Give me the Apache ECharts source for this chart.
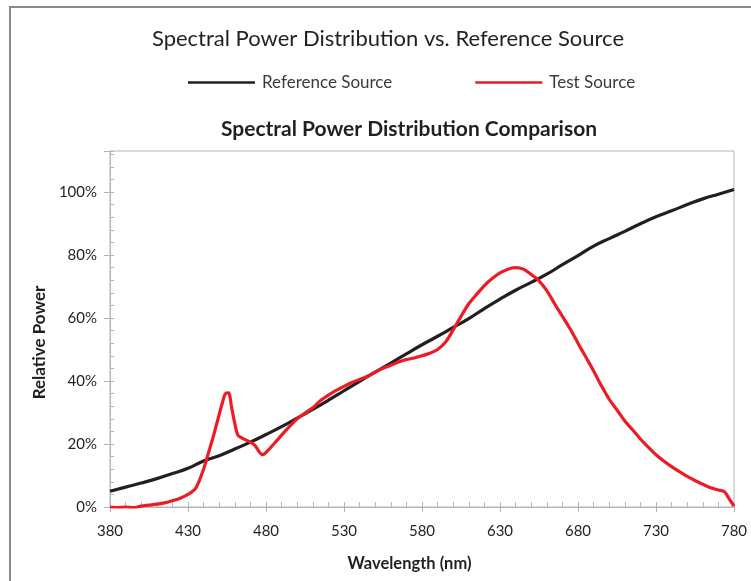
<!DOCTYPE html>
<html>
<head>
<meta charset="utf-8">
<script src="https://cdn.jsdelivr.net/npm/echarts@6/dist/echarts.min.js"></script>
<style>
html,body{margin:0;padding:0;background:#fff;}
#chart{width:751px;height:581px;}
</style>
</head>
<body>
<div id="chart"></div>
<script>
// Wavelengths (nm) and relative power (%)
var refWavelengths = [380,390,400,410,420,430,440,450,460,470,480,490,500,510,520,530,540,550,560,570,580,590,600,610,620,630,640,650,660,670,680,690,700,710,720,730,740,750,760,770,780];
var refValues = [5.0,6.3,7.6,9.0,10.6,12.3,14.6,16.3,18.4,20.6,23.0,25.5,28.2,31.0,33.9,36.9,39.9,42.8,45.7,48.6,51.5,54.2,57.0,59.8,63.0,66.0,68.8,71.3,73.9,76.9,79.8,82.8,85.2,87.5,89.9,92.1,94.0,96.0,97.8,99.3,100.8];

var testWavelengths = [380,385,390,395,400,405,410,415,420,425,430,435,440,443,446,449,452,454,456,458,460,462,465,470,473,476,478,480,485,490,495,500,505,510,515,520,525,530,535,540,545,550,555,560,565,570,575,580,585,590,595,600,605,610,615,620,625,630,635,640,645,650,655,660,665,670,675,680,685,690,695,700,705,710,715,720,725,730,735,740,745,750,755,760,765,770,774,777,780];
var testValues = [0.0,-0.2,0.0,-0.2,0.3,0.6,0.9,1.3,2.0,2.8,4.0,6.0,12.0,17.0,22.0,27.5,33.0,36.0,36.2,31.5,26.5,22.8,21.8,20.6,19.5,17.3,16.6,17.3,20.0,22.8,25.5,28.0,29.8,31.5,33.8,35.5,37.0,38.3,39.5,40.5,41.5,42.8,44.0,45.0,46.0,46.8,47.3,48.0,48.8,50.0,52.3,56.2,60.5,64.5,67.5,70.3,72.5,74.3,75.5,76.0,75.5,73.8,71.8,68.7,64.5,60.5,56.5,52.0,47.6,43.2,38.5,34.2,30.8,27.3,24.5,21.6,19.0,16.6,14.6,12.8,11.2,9.7,8.4,7.2,6.1,5.4,4.8,2.5,0.3];

var xTickLabels = [380,430,480,530,580,630,680,730,780];
var yTickLabels = [0,20,40,60,80,100];

var FONT = 'Lato, "Noto Sans", sans-serif';
var refData = refWavelengths.map(function(w,i){return [w, refValues[i]];});
var testData = testWavelengths.map(function(w,i){return [w, testValues[i]];});

var chart = echarts.init(document.getElementById('chart'), null, {renderer:'canvas'});
chart.setOption({
  animation:false,
  backgroundColor:'#fff',
  textStyle:{fontFamily:FONT},
  title:[
    {text:'Spectral Power Distribution vs. Reference Source', left:388, textAlign:'center', top:28, padding:0,
     textStyle:{fontFamily:FONT, fontSize:22, fontWeight:'normal', color:'#231f20'}},
    {text:'Spectral Power Distribution Comparison', left:409, textAlign:'center', top:119, padding:0,
     textStyle:{fontFamily:FONT, fontSize:21, fontWeight:'bold', color:'#231f20'}}
  ],
  legend:{
    left:188, top:74, padding:0, icon:'rect', itemWidth:67, itemHeight:2.5, itemGap:83,
    textStyle:{fontFamily:FONT, fontSize:17, color:'#3a3a3a', padding:[0,0,0,2]},
    data:['Reference Source','Test Source']
  },
  grid:{left:110, right:17, top:151, bottom:74, show:true, borderColor:'#b5b5b5', borderWidth:1, containLabel:false},
  xAxis:[
    {type:'value', min:380, max:780, interval:50, position:'bottom',
     name:'Wavelength (nm)', nameLocation:'middle', nameGap:48,
     nameTextStyle:{fontFamily:FONT, fontSize:16.5, fontWeight:'bold', color:'#231f20', padding:[0,25,0,0]},
     axisLine:{lineStyle:{color:'#b5b5b5', width:1}},
     axisTick:{show:true, inside:false, length:5, lineStyle:{color:'#b5b5b5'}},
     axisLabel:{fontFamily:FONT, fontSize:15, color:'#231f20', margin:17,
       formatter:function(v){return xTickLabels.indexOf(v)>=0 ? String(v) : '';}},
     splitLine:{show:false}},
    {type:'value', min:380, max:780, interval:10, position:'bottom',
     axisLine:{show:false}, axisLabel:{show:false}, splitLine:{show:false},
     axisTick:{show:true, inside:true, length:5, lineStyle:{color:'#b5b5b5'}}}
  ],
  yAxis:[
    {type:'value', min:0, max:113, interval:20, position:'left',
     name:'Relative Power', nameLocation:'middle', nameGap:60, nameRotate:90,
     nameTextStyle:{fontFamily:FONT, fontSize:17, fontWeight:'bold', color:'#231f20', padding:[0,27,0,0]},
     axisLine:{show:true, lineStyle:{color:'#b5b5b5', width:1}},
     axisTick:{show:true, inside:false, length:6, lineStyle:{color:'#b5b5b5'}},
     axisLabel:{fontFamily:FONT, fontSize:15, color:'#231f20', margin:13,
       formatter:function(v){return yTickLabels.indexOf(v)>=0 ? v+'%' : '';}},
     splitLine:{show:false}},
    {type:'value', min:0, max:113, interval:4, position:'left',
     axisLine:{show:false}, axisLabel:{show:false}, splitLine:{show:false},
     axisTick:{show:true, inside:true, length:4, lineStyle:{color:'#b5b5b5'}}}
  ],
  series:[
    {name:'Reference Source', type:'line', data:refData, smooth:true, showSymbol:false,
     xAxisIndex:0, yAxisIndex:0, color:'#231f20', lineStyle:{width:3.2, color:'#231f20'}},
    {name:'Test Source', type:'line', data:testData, smooth:0.3, showSymbol:false,
     xAxisIndex:0, yAxisIndex:0, color:'#ed1c24', lineStyle:{width:3.2, color:'#ed1c24'}}
  ],
  graphic:[
    {type:'rect', shape:{x:10, y:7, width:900, height:700}, silent:true, z:-1,
     style:{fill:null, stroke:'#8a8a8a', lineWidth:2}}
  ]
});
</script>
</body>
</html>
